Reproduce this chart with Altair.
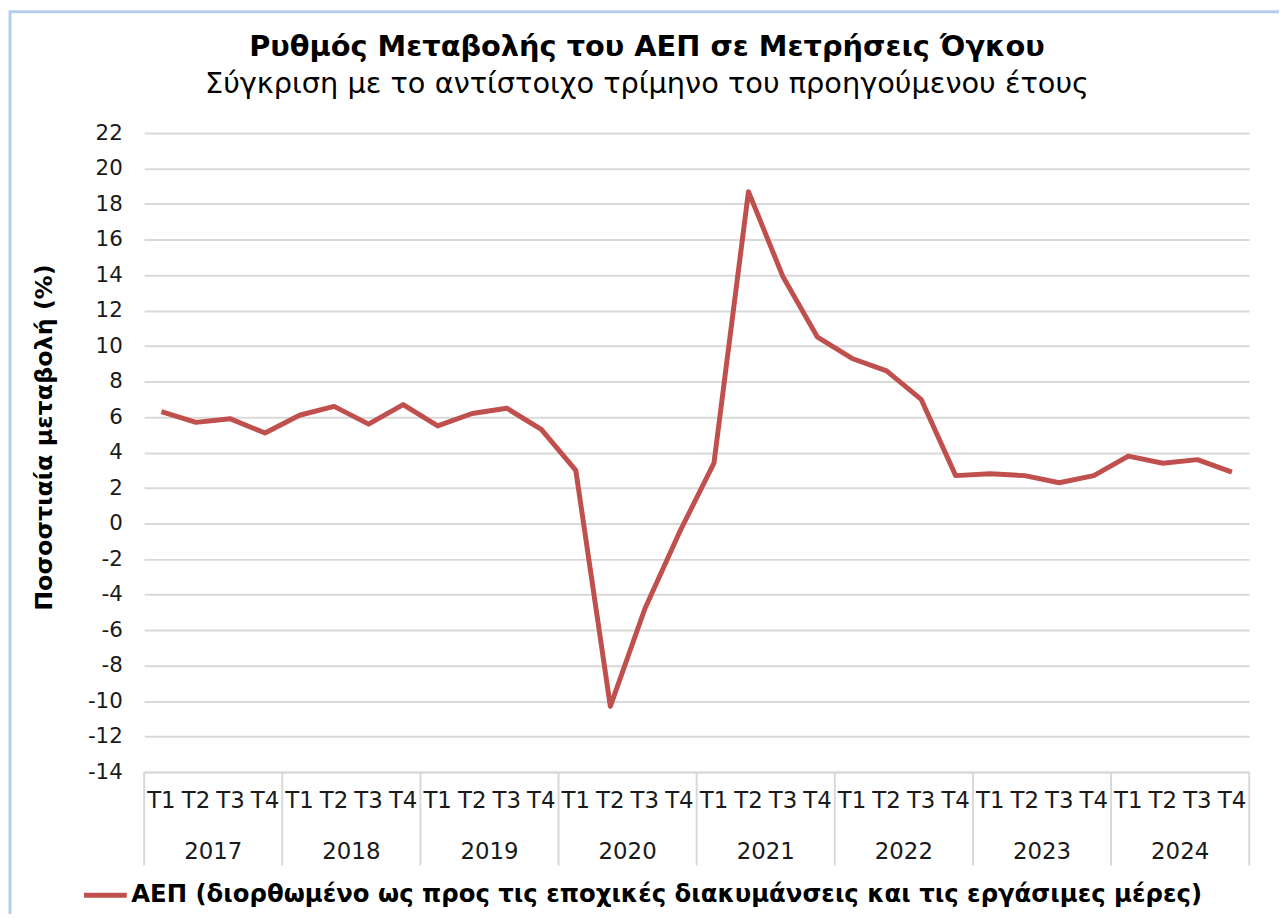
import altair as alt
import pandas as pd

years = [2017, 2018, 2019, 2020, 2021, 2022, 2023, 2024]
quarters = ["T1", "T2", "T3", "T4"]
values = [6.3, 5.7, 5.9, 5.1,
          6.1, 6.6, 5.6, 6.7,
          5.5, 6.2, 6.5, 5.3,
          3.0, -10.3, -4.8, -0.5,
          3.4, 18.7, 13.9, 10.5,
          9.3, 8.6, 7.0, 2.7,
          2.8, 2.7, 2.3, 2.7,
          3.8, 3.4, 3.6, 2.9]
y_ticks = list(range(-14, 23, 2))
series_name = "ΑΕΠ (διορθωμένο ως προς τις εποχικές διακυμάνσεις και τις εργάσιμες μέρες)"
title_text = "Ρυθμός Μεταβολής του ΑΕΠ σε Μετρήσεις Όγκου"
subtitle_text = "Σύγκριση με το αντίστοιχο τρίμηνο του προηγούμενου έτους"
y_title = "Ποσοστιαία μεταβολή (%)"

W, H = 1112, 643
FONT = "DejaVu Sans"
RED = "#C0504D"
GRID = "#d9d9d9"
TXT = "#1a1a1a"

rows = []
for i, v in enumerate(values):
    rows.append({"idx": i, "year": years[i // 4], "q": quarters[i % 4],
                 "value": v, "series": series_name})
df = pd.DataFrame(rows)

year_df = pd.DataFrame({"year": [str(y) for y in years],
                        "center": [k * 4 + 1.5 for k in range(len(years))]})
sep_df = pd.DataFrame({"pos": [k * 4 - 0.5 for k in range(len(years) + 1)]})
title_df = pd.DataFrame({"t": [title_text]})
subtitle_df = pd.DataFrame({"t": [subtitle_text]})

xscale = alt.Scale(domain=[-0.5, len(values) - 0.5], nice=False, zero=False)

line = alt.Chart(df).mark_line(strokeWidth=5, strokeJoin="round").encode(
    x=alt.X("idx:Q", scale=xscale,
            axis=alt.Axis(values=list(range(len(values))), labels=False,
                          title=None, grid=False, ticks=False, tickSize=0,
                          domain=True, domainColor=GRID, domainWidth=2)),
    y=alt.Y("value:Q", scale=alt.Scale(domain=[-14, 22], nice=False, zero=False),
            axis=alt.Axis(values=y_ticks, title=y_title, grid=True,
                          labelExpr="datum.value < 0 ? '-' + abs(datum.value) : '' + datum.value",
                          gridColor=GRID, gridWidth=2, domain=False, ticks=False,
                          labelFont=FONT, labelFontSize=21.5, labelColor=TXT,
                          labelPadding=22,
                          titleFont=FONT, titleFontSize=24, titleFontWeight="bold",
                          titleColor="#000000", titleX=-100, titleY=306,
                          titleAlign="center", titleBaseline="middle", titleAngle=-90)),
    color=alt.Color("series:N", scale=alt.Scale(range=[RED]),
                    legend=alt.Legend(title=None, orient="none", legendX=-63, legendY=743,
                                      symbolType="stroke", symbolStrokeWidth=5,
                                      symbolSize=1849, labelFont=FONT, labelFontSize=24.5,
                                      labelFontWeight="bold", labelColor="#000000",
                                      labelLimit=0, labelOffset=2, padding=0)),
)

q_text = alt.Chart(df).mark_text(font=FONT, fontSize=23, color=TXT,
                                 baseline="middle", align="center").encode(
    x=alt.X("idx:Q", scale=xscale),
    y=alt.value(H + 29),
    text="q:N",
)

year_text = alt.Chart(year_df).mark_text(font=FONT, fontSize=23, color=TXT,
                                         baseline="middle", align="center").encode(
    x=alt.X("center:Q", scale=xscale),
    y=alt.value(H + 81),
    text="year:N",
)

seps = alt.Chart(sep_df).mark_rule(color=GRID, strokeWidth=2).encode(
    x=alt.X("pos:Q", scale=xscale),
    y=alt.value(H),
    y2=alt.value(H + 94),
)

title_mark = alt.Chart(title_df).mark_text(font=FONT, fontSize=29, fontWeight="bold",
                                           color="#000000", baseline="middle", align="center").encode(
    x=alt.value(506), y=alt.value(-87), text="t:N")
subtitle_mark = alt.Chart(subtitle_df).mark_text(font=FONT, fontSize=29,
                                                 color="#000000", baseline="middle", align="center").encode(
    x=alt.value(506), y=alt.value(-49), text="t:N")

border_left = alt.Chart(pd.DataFrame({"a": [0]})).mark_rule(color="#b4cdf0", strokeWidth=3).encode(
    x=alt.value(-135), y=alt.value(-123), y2=alt.value(H + 160))
border_top = alt.Chart(pd.DataFrame({"a": [0]})).mark_rule(color="#b4cdf0", strokeWidth=3).encode(
    y=alt.value(-122), x=alt.value(-136), x2=alt.value(W + 40))

chart = alt.layer(border_left, border_top, seps, line, q_text, year_text,
                  title_mark, subtitle_mark).properties(
    width=W, height=H,
    autosize=alt.AutoSizeParams(type="none"),
    padding={"left": 137, "top": 123, "right": 30, "bottom": 140},
).configure_view(stroke=None)

chart.save("out.html", embed_options={"renderer": "svg", "actions": False})
